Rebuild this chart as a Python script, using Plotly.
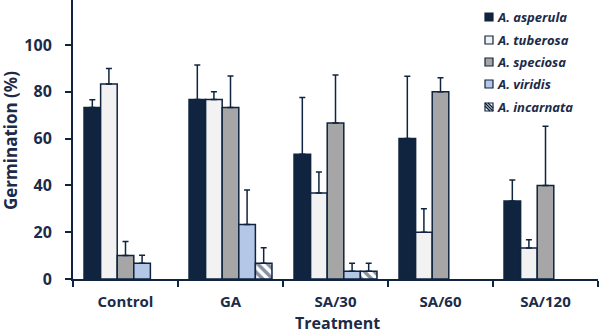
import plotly.graph_objects as go

# Germination (%) of five species under each seed treatment (mean, upper error)
treatments = ["Control", "GA", "SA/30", "SA/60", "SA/120"]
species = ["A. asperula", "A. tuberosa", "A. speciosa", "A. viridis", "A. incarnata"]

asperula = [73.3, 76.7, 53.3, 60.0, 33.3]
asperula_err = [3.3, 14.7, 24.3, 26.6, 9.0]
tuberosa = [83.3, 76.7, 36.7, 20.0, 13.3]
tuberosa_err = [6.7, 3.3, 9.0, 10.0, 3.5]
speciosa = [10.0, 73.3, 66.7, 80.0, 40.0]
speciosa_err = [6.0, 13.4, 20.5, 6.0, 25.3]
viridis = [6.7, 23.3, 3.3, None, None]
viridis_err = [3.4, 14.7, 3.4, None, None]
incarnata = [None, 6.7, 3.3, None, None]
incarnata_err = [None, 6.7, 3.4, None, None]

values = [asperula, tuberosa, speciosa, viridis, incarnata]
errors = [asperula_err, tuberosa_err, speciosa_err, viridis_err, incarnata_err]

NAVY = "#10243f"
TEXT = "#1b2b48"
fills = [NAVY, "#f2f2f2", "#a6a6a6", "#b4c7e7", "white"]
FONT = "Open Sans"

fig = go.Figure()
for i, name in enumerate(species):
    marker = dict(color=fills[i], line=dict(color=NAVY, width=1.5))
    if i == 4:
        marker["pattern"] = dict(shape="\\", fgcolor=NAVY, bgcolor="white",
                                 size=7, solidity=0.5)
    fig.add_trace(go.Bar(
        x=treatments, y=values[i], name=name, marker=marker,
        error_y=dict(type="data", array=errors[i],
                     arrayminus=[0 if e is not None else None for e in errors[i]],
                     symmetric=False, color=NAVY, thickness=1.5, width=3),
        showlegend=False,
    ))

W, H = 600, 336
ML, MR, MT, MB = 73, 2, 0, 57
PW, PH = W - ML - MR, H - MT - MB


def px(xp):
    return (xp - ML) / PW


def py(yp):
    return (H - MB - yp) / PH


# Legend drawn as small squares with labels
shapes = []
annotations = []
rows = [17, 40, 62, 84, 107]
for i, name in enumerate(species):
    yc = rows[i]
    shapes.append(dict(type="rect", xref="paper", yref="paper",
                       x0=px(485), x1=px(493), y0=py(yc + 4), y1=py(yc - 4),
                       fillcolor=fills[i], line=dict(color=NAVY, width=1.2)))
    if i == 4:
        for off in (-3, 0, 3):
            shapes.append(dict(type="line", xref="paper", yref="paper",
                               x0=px(485 + max(0, off)), y0=py(yc - 4 + max(0, -off)),
                               x1=px(493 - max(0, -off)), y1=py(yc + 4 - max(0, off)),
                               line=dict(color=NAVY, width=1.4)))
    annotations.append(dict(text=name, xref="paper", yref="paper",
                            x=px(495), y=py(yc), xanchor="left", yanchor="middle",
                            showarrow=False,
                            font=dict(family=FONT, size=13, color=TEXT,
                                      weight="bold", style="italic")))

annotations.append(dict(text="Germination (%)", xref="paper", yref="paper",
                        x=px(10), y=py(141), textangle=-90,
                        xanchor="center", yanchor="middle", showarrow=False,
                        font=dict(family=FONT, size=17, color=TEXT, weight="bold")))
annotations.append(dict(text="Treatment", xref="paper", yref="paper",
                        x=px(337), y=py(336), xanchor="center", yanchor="bottom",
                        showarrow=False,
                        font=dict(family=FONT, size=16, color=TEXT, weight="bold")))

fig.update_layout(
    width=W, height=H,
    margin=dict(l=ML, r=MR, t=MT, b=MB),
    barmode="group", bargap=0.21, bargroupgap=0,
    plot_bgcolor="white", paper_bgcolor="white",
    shapes=shapes, annotations=annotations,
    xaxis=dict(showline=True, linecolor=NAVY, linewidth=2,
               ticks="outside", tickson="boundaries", ticklen=6, tickwidth=2,
               tickcolor=NAVY, showgrid=False, ticklabelstandoff=8,
               tickfont=dict(family=FONT, size=15, color=TEXT, weight="bold")),
    yaxis=dict(range=[0, PH / 2.34], showline=True, linecolor=NAVY, linewidth=2,
               ticks="outside", ticklen=6, tickwidth=2, tickcolor=NAVY,
               tickvals=[0, 20, 40, 60, 80, 100], showgrid=False, zeroline=False,
               ticklabelstandoff=10,
               tickfont=dict(family=FONT, size=16, color=TEXT, weight="bold")),
)

fig.write_html("out.html")
